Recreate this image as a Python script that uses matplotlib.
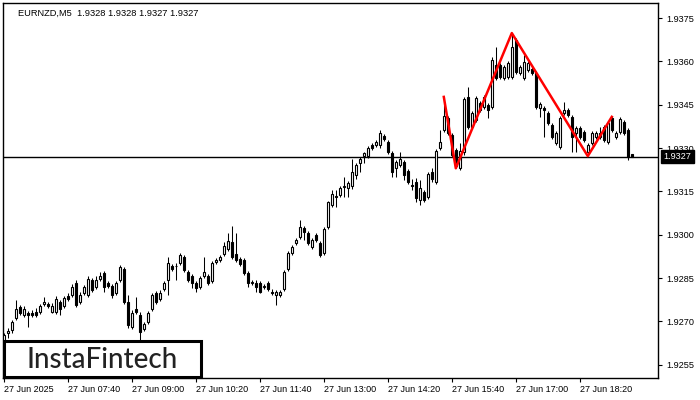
import matplotlib.pyplot as plt
from matplotlib.patches import Rectangle

# EURNZD M5 candles, 27 Jun 2025 06:20 .. 19:25
symbol_text = "EURNZD,M5  1.9328 1.9328 1.9327 1.9327"

opens = [
    1.92636, 1.92660, 1.92670, 1.92711, 1.92750, 1.92722, 1.92729, 1.92729, 1.92732, 1.92732,
    1.92760, 1.92760, 1.92732, 1.92732, 1.92767, 1.92753, 1.92788, 1.92792, 1.92833, 1.92767,
    1.92799, 1.92792, 1.92843, 1.92819, 1.92847, 1.92868, 1.92833, 1.92822, 1.92799, 1.92843,
    1.92881, 1.92767, 1.92681, 1.92743, 1.92722, 1.92674, 1.92698, 1.92743, 1.92799, 1.92778,
    1.92812, 1.92843, 1.92891, 1.92891, 1.92902, 1.92923, 1.92871, 1.92857, 1.92833, 1.92819,
    1.92857, 1.92857, 1.92840, 1.92905, 1.92912, 1.92933, 1.92951, 1.92975, 1.92933, 1.92916,
    1.92912, 1.92868, 1.92833, 1.92833, 1.92833, 1.92819, 1.92833, 1.92802, 1.92792, 1.92792,
    1.92812, 1.92881, 1.92937, 1.92972, 1.92992, 1.93023, 1.93006, 1.92958, 1.92999, 1.92972,
    1.92937, 1.93026, 1.93103, 1.93134, 1.93138, 1.93165, 1.93161, 1.93168, 1.93207, 1.93248,
    1.93272, 1.93272, 1.93311, 1.93311, 1.93311, 1.93341, 1.93321, 1.93283, 1.93230, 1.93241,
    1.93251, 1.93221, 1.93172, 1.93182, 1.93120, 1.93148, 1.93131, 1.93217, 1.93182, 1.93300,
    1.93362, 1.93403, 1.93345, 1.93293, 1.93230, 1.93286, 1.93477, 1.93373, 1.93397, 1.93456,
    1.93442, 1.93449, 1.93442, 1.93587, 1.93587, 1.93542, 1.93546, 1.93546, 1.93674, 1.93560,
    1.93542, 1.93570, 1.93573, 1.93560, 1.93438, 1.93438, 1.93421, 1.93379, 1.93318, 1.93304,
    1.93421, 1.93431, 1.93407, 1.93352, 1.93369, 1.93355, 1.93286, 1.93318, 1.93338, 1.93338,
    1.93373, 1.93321, 1.93403, 1.93338, 1.93355, 1.93390, 1.93362, 1.93280,
]
highs = [
    1.92660, 1.92677, 1.92705, 1.92774, 1.92757, 1.92753, 1.92736, 1.92739, 1.92746, 1.92760,
    1.92785, 1.92767, 1.92764, 1.92788, 1.92774, 1.92788, 1.92799, 1.92829, 1.92843, 1.92802,
    1.92826, 1.92857, 1.92850, 1.92857, 1.92871, 1.92875, 1.92840, 1.92829, 1.92840, 1.92895,
    1.92888, 1.92792, 1.92739, 1.92785, 1.92732, 1.92698, 1.92736, 1.92799, 1.92806, 1.92809,
    1.92840, 1.92923, 1.92898, 1.92902, 1.92937, 1.92930, 1.92878, 1.92864, 1.92840, 1.92857,
    1.92923, 1.92864, 1.92909, 1.92919, 1.92930, 1.92975, 1.93006, 1.93030, 1.93006, 1.92923,
    1.92919, 1.92875, 1.92843, 1.92843, 1.92840, 1.92829, 1.92840, 1.92812, 1.92809, 1.92809,
    1.92878, 1.92944, 1.92965, 1.92989, 1.93051, 1.93030, 1.93013, 1.92989, 1.93006, 1.92979,
    1.93026, 1.93117, 1.93155, 1.93155, 1.93168, 1.93200, 1.93186, 1.93262, 1.93248, 1.93269,
    1.93286, 1.93307, 1.93318, 1.93328, 1.93362, 1.93348, 1.93328, 1.93290, 1.93258, 1.93286,
    1.93258, 1.93227, 1.93193, 1.93196, 1.93189, 1.93155, 1.93217, 1.93230, 1.93297, 1.93362,
    1.93477, 1.93410, 1.93352, 1.93300, 1.93318, 1.93477, 1.93511, 1.93428, 1.93480, 1.93463,
    1.93484, 1.93456, 1.93615, 1.93650, 1.93594, 1.93587, 1.93601, 1.93698, 1.93680, 1.93587,
    1.93622, 1.93601, 1.93580, 1.93567, 1.93459, 1.93445, 1.93428, 1.93386, 1.93359, 1.93410,
    1.93459, 1.93438, 1.93414, 1.93376, 1.93376, 1.93362, 1.93318, 1.93359, 1.93359, 1.93373,
    1.93379, 1.93393, 1.93410, 1.93359, 1.93407, 1.93397, 1.93369, 1.93280,
]
lows = [
    1.92629, 1.92642, 1.92660, 1.92705, 1.92722, 1.92715, 1.92681, 1.92715, 1.92715, 1.92725,
    1.92753, 1.92746, 1.92729, 1.92725, 1.92722, 1.92746, 1.92771, 1.92785, 1.92750, 1.92760,
    1.92792, 1.92785, 1.92802, 1.92812, 1.92840, 1.92802, 1.92816, 1.92781, 1.92792, 1.92836,
    1.92760, 1.92677, 1.92674, 1.92725, 1.92636, 1.92667, 1.92691, 1.92736, 1.92760, 1.92771,
    1.92806, 1.92792, 1.92875, 1.92843, 1.92895, 1.92871, 1.92836, 1.92816, 1.92802, 1.92812,
    1.92850, 1.92826, 1.92833, 1.92898, 1.92905, 1.92926, 1.92944, 1.92916, 1.92905, 1.92891,
    1.92861, 1.92819, 1.92826, 1.92802, 1.92799, 1.92812, 1.92806, 1.92792, 1.92757, 1.92785,
    1.92806, 1.92875, 1.92930, 1.92965, 1.92985, 1.92982, 1.92965, 1.92951, 1.92975, 1.92923,
    1.92930, 1.93020, 1.93096, 1.93096, 1.93131, 1.93131, 1.93131, 1.93158, 1.93193, 1.93217,
    1.93248, 1.93265, 1.93293, 1.93304, 1.93300, 1.93325, 1.93279, 1.93200, 1.93200, 1.93234,
    1.93189, 1.93175, 1.93155, 1.93113, 1.93103, 1.93113, 1.93124, 1.93182, 1.93175, 1.93293,
    1.93355, 1.93345, 1.93269, 1.93230, 1.93224, 1.93276, 1.93366, 1.93366, 1.93390, 1.93424,
    1.93435, 1.93403, 1.93435, 1.93535, 1.93539, 1.93535, 1.93539, 1.93539, 1.93556, 1.93553,
    1.93535, 1.93563, 1.93553, 1.93435, 1.93407, 1.93338, 1.93379, 1.93331, 1.93311, 1.93297,
    1.93414, 1.93407, 1.93286, 1.93286, 1.93331, 1.93321, 1.93276, 1.93311, 1.93331, 1.93331,
    1.93321, 1.93314, 1.93355, 1.93331, 1.93348, 1.93345, 1.93258, 1.93270,
]
closes = [
    1.92653, 1.92667, 1.92698, 1.92743, 1.92729, 1.92743, 1.92722, 1.92722, 1.92722, 1.92753,
    1.92767, 1.92753, 1.92753, 1.92778, 1.92743, 1.92781, 1.92778, 1.92819, 1.92757, 1.92792,
    1.92819, 1.92847, 1.92809, 1.92843, 1.92857, 1.92819, 1.92822, 1.92792, 1.92833, 1.92888,
    1.92767, 1.92688, 1.92729, 1.92732, 1.92663, 1.92691, 1.92729, 1.92792, 1.92767, 1.92799,
    1.92833, 1.92902, 1.92881, 1.92891, 1.92930, 1.92878, 1.92843, 1.92833, 1.92816, 1.92850,
    1.92871, 1.92833, 1.92902, 1.92912, 1.92923, 1.92961, 1.92979, 1.92923, 1.92912, 1.92898,
    1.92868, 1.92833, 1.92836, 1.92819, 1.92802, 1.92822, 1.92812, 1.92799, 1.92802, 1.92802,
    1.92871, 1.92937, 1.92958, 1.92982, 1.93026, 1.93009, 1.92972, 1.92982, 1.92982, 1.92930,
    1.93020, 1.93113, 1.93141, 1.93131, 1.93161, 1.93168, 1.93179, 1.93217, 1.93241, 1.93262,
    1.93283, 1.93300, 1.93300, 1.93321, 1.93352, 1.93331, 1.93286, 1.93217, 1.93251, 1.93262,
    1.93207, 1.93182, 1.93168, 1.93127, 1.93161, 1.93120, 1.93210, 1.93193, 1.93290, 1.93321,
    1.93410, 1.93352, 1.93276, 1.93237, 1.93290, 1.93470, 1.93373, 1.93421, 1.93473, 1.93431,
    1.93477, 1.93431, 1.93604, 1.93542, 1.93546, 1.93580, 1.93594, 1.93650, 1.93563, 1.93580,
    1.93597, 1.93594, 1.93560, 1.93442, 1.93452, 1.93431, 1.93386, 1.93338, 1.93352, 1.93403,
    1.93431, 1.93414, 1.93338, 1.93369, 1.93338, 1.93328, 1.93311, 1.93352, 1.93352, 1.93352,
    1.93328, 1.93386, 1.93362, 1.93352, 1.93400, 1.93352, 1.93269, 1.93270,
]

# time axis labels (one every 16 bars = 80 minutes)
time_labels = ["27 Jun 2025", "27 Jun 07:40", "27 Jun 09:00", "27 Jun 10:20", "27 Jun 11:40",
               "27 Jun 13:00", "27 Jun 14:20", "27 Jun 15:40", "27 Jun 17:00", "27 Jun 18:20"]
time_label_bars = [0, 16, 32, 48, 64, 80, 96, 112, 128, 144]

price_ticks = [1.9255, 1.9270, 1.9285, 1.9300, 1.9315, 1.9330, 1.9345, 1.9360, 1.9375]
last_price = 1.9327

# red pattern line
pattern_bars = [110, 113, 127, 146, 152]
pattern_prices = [1.93477, 1.93230, 1.93698, 1.93272, 1.93408]

font = "Liberation Sans"

fig = plt.figure(figsize=(7, 4), dpi=100)
ax = fig.add_axes([3 / 700, 22 / 400, 655 / 700, 375 / 400])

for i in range(len(opens)):
    o, h, l, c = opens[i], highs[i], lows[i], closes[i]
    ax.vlines(i, l, h, color="black", lw=0.75, zorder=2)
    fc = "white" if c >= o else "black"
    ax.bar(i, abs(c - o), bottom=min(o, c), width=0.5, facecolor=fc,
           edgecolor="black", lw=0.8, zorder=3)

ax.axhline(last_price, color="black", lw=1, zorder=1)
ax.plot(pattern_bars, pattern_prices, color="red", lw=1.8, zorder=4)

ax.set_xlim(-0.2, 163.55)
ax.set_ylim(1.92504, 1.93802)

ax.yaxis.tick_right()
ax.set_yticks(price_ticks)
ax.set_yticklabels([f"{p:.4f}" for p in price_ticks], fontsize=6.6, fontfamily=font)
ax.tick_params(axis="y", direction="out", length=3, pad=3, width=0.8)

ax.set_xticks(time_label_bars)
ax.set_xticklabels(time_labels, fontsize=6.5, fontfamily=font)
for lbl in ax.get_xticklabels():
    lbl.set_horizontalalignment("left")
ax.tick_params(axis="x", direction="out", length=3, pad=2, width=0.8)

for s in ax.spines.values():
    s.set_color("black")
    s.set_linewidth(1)

ax.text(0.023, 0.985, symbol_text, transform=ax.transAxes, fontsize=6.7,
        fontfamily=font, va="top", ha="left")

ax.annotate(f"{last_price:.4f}", xy=(1.0, last_price), xycoords=("axes fraction", "data"),
            xytext=(4, 0), textcoords="offset points", fontsize=6.6, fontfamily=font,
            color="white", va="center", ha="left",
            bbox=dict(boxstyle="square,pad=0.25", fc="black", ec="black"))

# watermark box
fig.add_artist(Rectangle((4 / 700, 23 / 400), 197 / 700, 36 / 400, transform=fig.transFigure,
                         facecolor="white", edgecolor="black", lw=2.2, zorder=10))
fig.text(102 / 700, 40 / 400, "InstaFintech", fontsize=20, fontfamily="Lato",
         fontweight="medium", color="#222222", ha="center", va="center", zorder=11)

fig.savefig("out.png", dpi=100)
